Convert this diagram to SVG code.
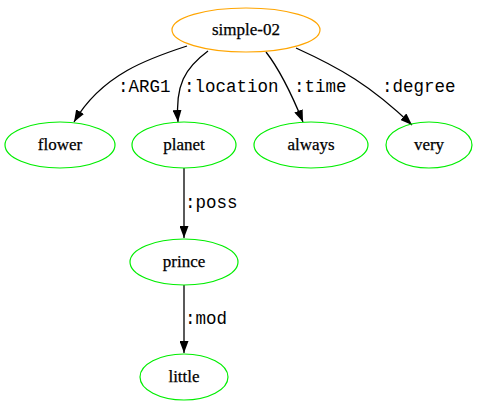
<svg xmlns="http://www.w3.org/2000/svg" width="478" height="407" viewBox="0 0 478 407">
  <style>
    .node ellipse { fill: none; stroke-width: 1.2; }
    .root ellipse { stroke: #ffa500; }
    .leaf ellipse { stroke: #00ee00; }
    .node text { font-family: "Liberation Serif", "Times New Roman", serif; font-size: 17px; text-anchor: middle; fill: #000; stroke: #000; stroke-width: 0.25; }
    .edges path { fill: none; stroke: #000; stroke-width: 1.3; }
    .edges text { font-family: "Liberation Mono", "Courier New", monospace; font-size: 17.5px; fill: #000; }
  </style>
  <defs>
    <marker id="arrow" viewBox="0 0 12 9" refX="12" refY="4.5" markerWidth="12" markerHeight="9" markerUnits="userSpaceOnUse" orient="auto">
      <path d="M0,0 L12,4.5 L0,9 Z" fill="#000"/>
    </marker>
  </defs>
  <rect width="478" height="407" fill="#fff"/>

  <g class="edges">
    <path d="M187,46 C150,58 102,74 74,122" marker-end="url(#arrow)"/>
    <text x="118" y="92">:ARG1</text>
    <path d="M208,51 C185,68 175,85 178,122" marker-end="url(#arrow)"/>
    <text x="184" y="92">:location</text>
    <path d="M266,52 C280,70 292,95 303,122" marker-end="url(#arrow)"/>
    <text x="294" y="92">:time</text>
    <path d="M296,48 C340,68 370,85 412,125" marker-end="url(#arrow)"/>
    <text x="382" y="92">:degree</text>
    <path d="M184,168 L184,238" marker-end="url(#arrow)"/>
    <text x="185" y="208">:poss</text>
    <path d="M184,285 L184,353" marker-end="url(#arrow)"/>
    <text x="185" y="324">:mod</text>
  </g>

  <g id="simple-02" class="node root">
    <ellipse cx="246" cy="30" rx="74" ry="22"/>
    <text x="246" y="35">simple-02</text>
  </g>
  <g id="flower" class="node leaf">
    <ellipse cx="60" cy="145" rx="55" ry="23"/>
    <text x="60" y="150">flower</text>
  </g>
  <g id="planet" class="node leaf">
    <ellipse cx="184" cy="145" rx="52" ry="23"/>
    <text x="184" y="150">planet</text>
  </g>
  <g id="always" class="node leaf">
    <ellipse cx="311" cy="145" rx="57" ry="23"/>
    <text x="311" y="150">always</text>
  </g>
  <g id="very" class="node leaf">
    <ellipse cx="429" cy="145" rx="43" ry="23"/>
    <text x="429" y="150">very</text>
  </g>
  <g id="prince" class="node leaf">
    <ellipse cx="184" cy="262" rx="54" ry="23"/>
    <text x="184" y="267">prince</text>
  </g>
  <g id="little" class="node leaf">
    <ellipse cx="184" cy="377" rx="44" ry="23"/>
    <text x="184" y="382">little</text>
  </g>
</svg>
